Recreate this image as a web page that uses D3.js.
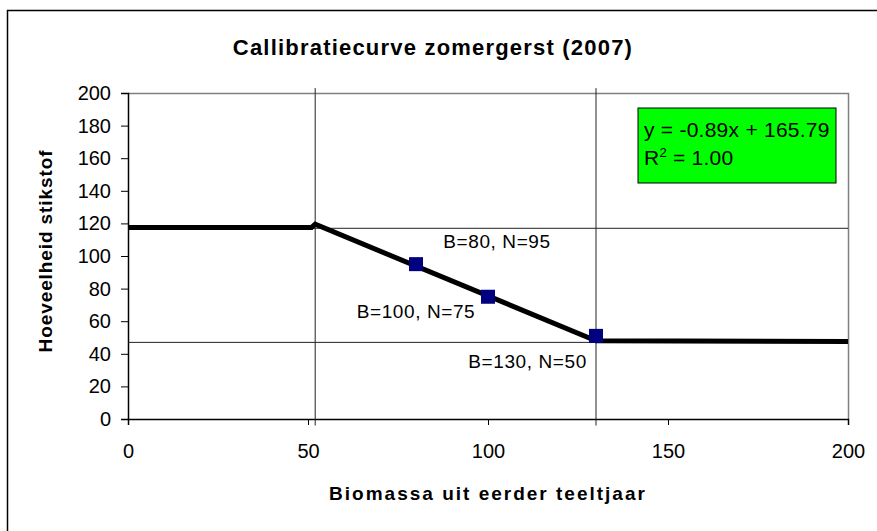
<!DOCTYPE html>
<html>
<head>
<meta charset="utf-8">
<script src="https://cdn.jsdelivr.net/npm/d3@7"></script>
<style>
  body { margin: 0; background: #fff; }
  svg { display: block; font-family: "Liberation Sans", Arial, sans-serif; }
</style>
</head>
<body>
<div id="chart"></div>
<script>
var width = 877;
var height = 531;

// data
var curveX = [0, 51, 52, 130, 200];
var curveY = [117.5, 117.5, 119.5, 48, 47.5];
var pointsX = [80, 100, 130];
var pointsY = [95, 75, 51];
var pointLabels = ["B=80, N=95", "B=100, N=75", "B=130, N=50"];
var labelX = [102.5, 80, 111];
var labelY = [105, 62, 31];
var refX = [52, 130];
var refY = [117, 47];
var xTicks = [0, 50, 100, 150, 200];
var yTicks = [0, 20, 40, 60, 80, 100, 120, 140, 160, 180, 200];
var eqLines = ["y = -0.89x + 165.79", "R", " = 1.00"];

var svg = d3.select("#chart")
    .append("svg")
        .attr("width", width)
        .attr("height", height);

var margin = {top: 93, left: 128, right: 29, bottom: 112};

var xscale = d3.scaleLinear()
    .domain([0, 200])
    .range([margin.left, width - margin.right]);
var yscale = d3.scaleLinear()
    .domain([0, 200])
    .range([height - margin.bottom, margin.top]);

// outer frame
svg.append("path")
    .attr("d", "M7.5," + (height + 5) + "V10.5H" + (width + 5))
    .attr("fill", "none")
    .attr("stroke", "#000")
    .attr("stroke-width", 1.5);

// title
svg.append("text")
    .attr("x", 433)
    .attr("y", 55)
    .attr("text-anchor", "middle")
    .style("font-size", "22px")
    .style("font-weight", "bold")
    .style("letter-spacing", "1.2px")
    .text("Callibratiecurve zomergerst (2007)");

// plot border (top, right)
svg.append("path")
    .attr("d", "M" + xscale(0) + "," + (yscale(200) + 0.5) + "H" + (xscale(200) + 0.5) + "V" + yscale(0))
    .attr("fill", "none")
    .attr("stroke", "#808080")
    .attr("stroke-width", 1.5);

// axes
var x_axis = d3.axisBottom(xscale)
    .tickValues(xTicks)
    .tickSize(6)
    .tickPadding(19);
svg.append("g")
    .attr("class", "x_axis")
    .attr("transform", "translate(0," + yscale(0) + ")")
    .call(x_axis);

var y_axis = d3.axisLeft(yscale)
    .tickValues(yTicks)
    .tickSize(7)
    .tickPadding(10);
svg.append("g")
    .attr("class", "y_axis")
    .attr("transform", "translate(" + xscale(0) + ",0)")
    .call(y_axis);

svg.selectAll(".x_axis path, .y_axis path")
    .attr("stroke", "#000")
    .attr("stroke-width", 1.5);
svg.selectAll(".tick line").attr("stroke", "#000");
svg.selectAll(".tick text")
    .style("font-size", "20px")
    .style("font-family", "Liberation Sans, Arial, sans-serif")
    .attr("fill", "#000");

// reference lines
svg.selectAll(".vline")
    .data(refX)
    .enter().append("line")
    .attr("class", "vline")
    .attr("x1", function(d){ return xscale(d); })
    .attr("x2", function(d){ return xscale(d); })
    .attr("y1", yscale(203))
    .attr("y2", yscale(-4))
    .attr("stroke", "#222")
    .attr("stroke-width", 1);

svg.selectAll(".hline")
    .data(refY)
    .enter().append("line")
    .attr("class", "hline")
    .attr("x1", xscale(0))
    .attr("x2", xscale(200))
    .attr("y1", function(d){ return yscale(d); })
    .attr("y2", function(d){ return yscale(d); })
    .attr("stroke", "#222")
    .attr("stroke-width", 1);

// calibration curve
var line = d3.line()
    .x(function(d){ return xscale(d[0]); })
    .y(function(d){ return yscale(d[1]); });
svg.append("path")
    .datum(d3.zip(curveX, curveY))
    .attr("d", line)
    .attr("fill", "none")
    .attr("stroke", "#000")
    .attr("stroke-width", 5)
    .attr("stroke-linejoin", "miter");

// markers
var sz = 14;
svg.selectAll(".dot")
    .data(d3.zip(pointsX, pointsY))
    .enter().append("rect")
    .attr("class", "dot")
    .attr("x", function(d){ return xscale(d[0]) - sz / 2; })
    .attr("y", function(d){ return yscale(d[1]) - sz / 2; })
    .attr("width", sz)
    .attr("height", sz)
    .attr("fill", "#000080");

// point labels
svg.selectAll(".plabel")
    .data(pointLabels)
    .enter().append("text")
    .attr("class", "plabel")
    .attr("x", function(d, i){ return xscale(labelX[i]); })
    .attr("y", function(d, i){ return yscale(labelY[i]); })
    .attr("text-anchor", "middle")
    .style("font-size", "19px")
    .style("letter-spacing", "0.6px")
    .text(function(d){ return d; });

// equation box
var eq = svg.append("g").attr("transform", "translate(638,108)");
eq.append("rect")
    .attr("width", 198)
    .attr("height", 75)
    .attr("fill", "#00ff00")
    .attr("stroke", "#000")
    .attr("stroke-width", 1);
eq.append("text")
    .attr("x", 6)
    .attr("y", 29)
    .style("font-size", "21px")
    .style("letter-spacing", "0.25px")
    .text(eqLines[0]);
var r2 = eq.append("text")
    .attr("x", 6)
    .attr("y", 57)
    .style("font-size", "21px")
    .style("letter-spacing", "0.25px");
r2.append("tspan").text(eqLines[1]);
r2.append("tspan").attr("dy", -8).style("font-size", "13px").text("2");
r2.append("tspan").attr("dy", 8).text(eqLines[2]);

// axis titles
svg.append("text")
    .attr("x", 488)
    .attr("y", 500)
    .attr("text-anchor", "middle")
    .style("font-size", "19px")
    .style("font-weight", "bold")
    .style("letter-spacing", "2px")
    .text("Biomassa uit eerder teeltjaar");

svg.append("text")
    .attr("transform", "translate(52,251) rotate(-90)")
    .attr("text-anchor", "middle")
    .style("font-size", "19px")
    .style("font-weight", "bold")
    .style("letter-spacing", "0.9px")
    .text("Hoeveelheid stikstof");
</script>
</body>
</html>
